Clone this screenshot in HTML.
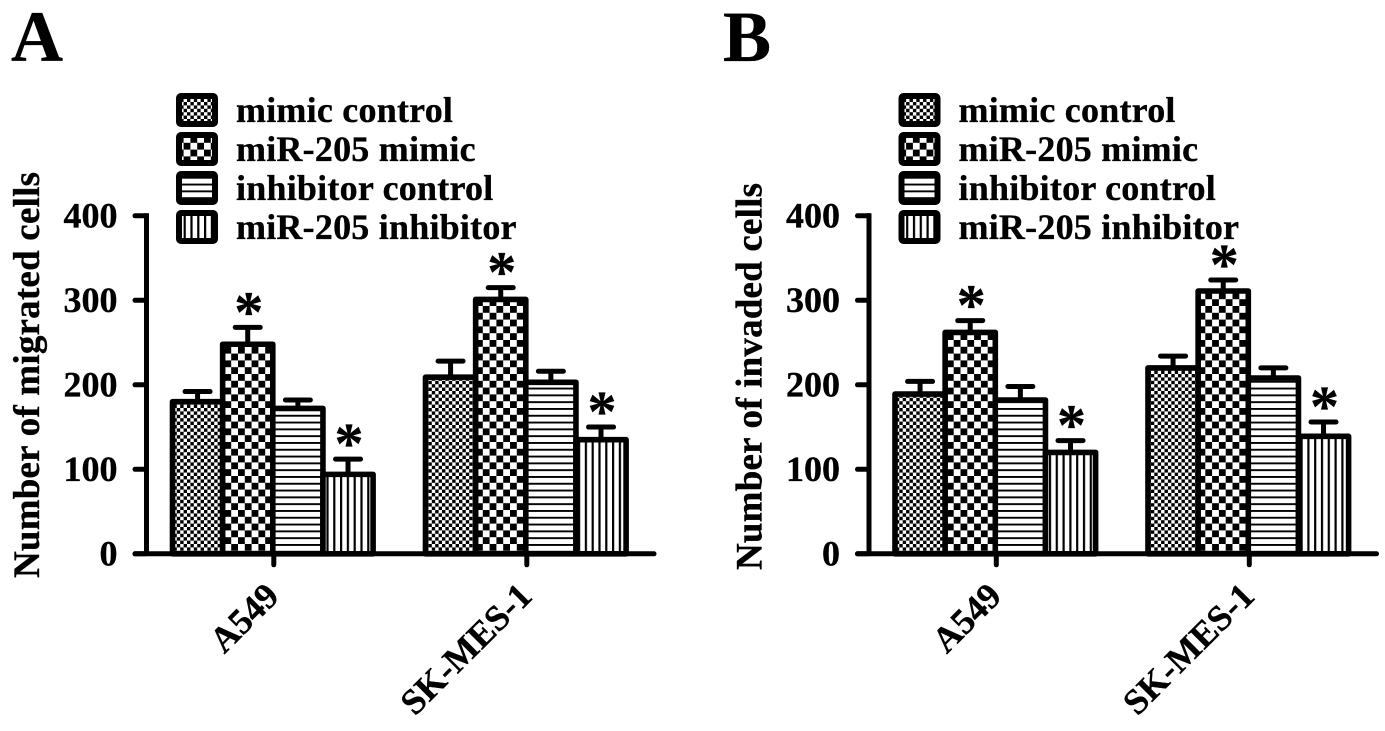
<!DOCTYPE html>
<html lang="en">
<head>
<meta charset="utf-8">
<title>Migrated and invaded cell counts</title>
<style>
html,body{margin:0;padding:0;background:#fff;width:1385px;height:731px;overflow:hidden}
svg{display:block}
text{font-family:"Liberation Serif",serif;font-weight:700;fill:#000;stroke:#000;stroke-width:0.35px}
</style>
</head>
<body>
<svg id="figure" xmlns="http://www.w3.org/2000/svg" width="1385" height="731" viewBox="0 0 1385 731">
<defs>
<pattern id="fine-check" patternUnits="userSpaceOnUse" width="6.8" height="6.8"><rect width="6.8" height="6.8" fill="#fff"/><rect width="3.4" height="3.4" fill="#000"/><rect x="3.4" y="3.4" width="3.4" height="3.4" fill="#000"/></pattern>
<pattern id="coarse-check" patternUnits="userSpaceOnUse" width="13.6" height="13.6"><rect width="13.6" height="13.6" fill="#fff"/><rect width="6.8" height="6.8" fill="#000"/><rect x="6.8" y="6.8" width="6.8" height="6.8" fill="#000"/></pattern>
<pattern id="h-lines" patternUnits="userSpaceOnUse" width="6.8" height="6.8"><rect width="6.8" height="6.8" fill="#fff"/><rect width="6.8" height="1.9" fill="#000"/></pattern>
<pattern id="v-lines" patternUnits="userSpaceOnUse" width="6.8" height="6.8"><rect width="6.8" height="6.8" fill="#fff"/><rect width="2.2" height="6.8" fill="#000"/></pattern>
</defs>
<text x="11" y="61" font-size="72">A</text>
<text x="723" y="61" font-size="72">B</text>
</svg>
<script>
const categories = ["A549", "SK-MES-1"];
const seriesNames = ["mimic control", "miR-205 mimic", "inhibitor control", "miR-205 inhibitor"];
const tickValues = [0, 100, 200, 300, 400];
const significantSeries = [1, 3];

const migratedMimicControl = [180, 209];
const migratedMimic = [248, 301];
const migratedInhibitorControl = [172, 203];
const migratedInhibitor = [94, 135];
const migratedMimicControlErr = [12, 19];
const migratedMimicErr = [20, 14];
const migratedInhibitorControlErr = [10, 13];
const migratedInhibitorErr = [18, 15];

const invadedMimicControl = [189, 220];
const invadedMimic = [262, 311];
const invadedInhibitorControl = [182, 208];
const invadedInhibitor = [120, 139];
const invadedMimicControlErr = [15, 14];
const invadedMimicErr = [14, 13];
const invadedInhibitorControlErr = [16, 12];
const invadedInhibitorErr = [14, 17];

const svg = document.getElementById('figure');
const NS = 'http://www.w3.org/2000/svg';
const patternIds = ['fine-check', 'coarse-check', 'h-lines', 'v-lines'];
const yScale = v => 553.8 - v * 0.845;
const xScale = (groupIndex, seriesIndex) => 172.5 + groupIndex * 253 + seriesIndex * 50.15;
const BAR_W = 50.15;

function make(parent, tag, attrs, text) {
  const el = document.createElementNS(NS, tag);
  for (const k in attrs) el.setAttribute(k, attrs[k]);
  if (text !== undefined) el.textContent = text;
  parent.appendChild(el);
  return el;
}

function drawPanel(panelName, dx, title, titleY, titleLen, values, errors) {
  const g = make(svg, 'g', { transform: 'translate(' + dx + ',0)' });
  
  

  seriesNames.forEach((name, s) => {
    const rowY = 93 + s * 39;
    const swatch = make(g, 'rect', { x: 179, y: rowY + 3, width: 36, height: 28, rx: 2, fill: 'url(#' + patternIds[s] + ')', stroke: '#000', 'stroke-width': 6 });
    
    
    const label = make(g, 'text', { x: 236, y: rowY + 29, 'font-size': 36, 'letter-spacing': 0.22 }, name);
    
    
  });

  categories.forEach((cat, c) => {
    values.forEach((seriesValues, s) => {
      const x0 = xScale(c, s);
      const top = yScale(seriesValues[c]);
      const capY = yScale(seriesValues[c] + errors[s][c]);
      const cx = x0 + BAR_W / 2;
      const stem = make(g, 'line', { x1: cx, x2: cx, y1: capY, y2: top, stroke: '#000', 'stroke-width': 5 });
      
      
      const cap = make(g, 'line', { x1: cx - 12.5, x2: cx + 12.5, y1: capY, y2: capY, stroke: '#000', 'stroke-width': 5, 'stroke-linecap': 'round' });
      
      
      const bar = make(g, 'rect', { x: x0, y: top, width: BAR_W, height: yScale(0) - top, fill: 'url(#' + patternIds[s] + ')', stroke: '#000', 'stroke-width': 5.6, 'stroke-linejoin': 'round' });
      
      
      if (significantSeries.includes(s)) {
        const star = make(g, 'text', { x: cx + 1, y: capY + 4, 'font-size': 58, 'text-anchor': 'middle' }, '*');
        
        
      }
    });
    const tx = xScale(c, 2);
    const xTick = make(g, 'line', { x1: tx + 1, x2: tx + 1, y1: yScale(0), y2: yScale(0) + 11, stroke: '#000', 'stroke-width': 5, 'stroke-linecap': 'round' });
    
    
    const lx = tx + 8, ly = 598;
    const catLabel = make(g, 'text', { x: lx, y: ly, 'font-size': 36, 'text-anchor': 'end', transform: 'rotate(-45 ' + lx + ' ' + ly + ')' }, cat);
    
    
  });

  const yAxis = make(g, 'line', { x1: 146.5, x2: 146.5, y1: yScale(400) - 2.5, y2: yScale(0), stroke: '#000', 'stroke-width': 5 });
  
  
  const xAxis = make(g, 'line', { x1: 135, x2: 654, y1: yScale(0), y2: yScale(0), stroke: '#000', 'stroke-width': 5, 'stroke-linecap': 'round' });
  
  

  tickValues.forEach(v => {
    const y = yScale(v);
    const tick = make(g, 'line', { x1: 135, x2: 146.5, y1: y, y2: y, stroke: '#000', 'stroke-width': 5, 'stroke-linecap': 'round' });
    
    
    const tickLabel = make(g, 'text', { x: 117.5, y: y + 11.5, 'font-size': 36, 'text-anchor': 'end' }, String(v));
    
    
  });

  const yTitle = make(g, 'text', { x: 39, y: titleY, 'font-size': 37, textLength: titleLen, lengthAdjust: 'spacing', transform: 'rotate(-90 39 ' + titleY + ')' }, title);
  
  
}

drawPanel('panel-a', 0, 'Number of migrated cells', 578, 406, [migratedMimicControl, migratedMimic, migratedInhibitorControl, migratedInhibitor], [migratedMimicControlErr, migratedMimicErr, migratedInhibitorControlErr, migratedInhibitorErr]);
drawPanel('panel-b', 722.5, 'Number of invaded cells', 570, 387, [invadedMimicControl, invadedMimic, invadedInhibitorControl, invadedInhibitor], [invadedMimicControlErr, invadedMimicErr, invadedInhibitorControlErr, invadedInhibitorErr]);
</script>
</body>
</html>
